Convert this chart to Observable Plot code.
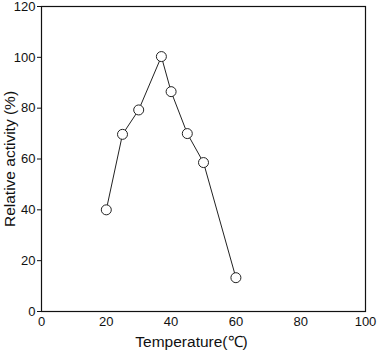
<!DOCTYPE html>
<html><head><meta charset="utf-8">
<script src="https://cdn.jsdelivr.net/npm/d3@7"></script>
<script src="https://cdn.jsdelivr.net/npm/@observablehq/plot@0.6"></script>
<style>body{margin:0;background:#fff}</style>
</head><body><div id="chart"></div>
<script>
const temperature = [20, 25, 30, 37, 40, 45, 50, 60];
const activity = [40, 69.7, 79.3, 100.3, 86.5, 70, 58.6, 13.3];
const xTicks = [0, 20, 40, 60, 80, 100];
const yTicks = [0, 20, 40, 60, 80, 100, 120];
const data = temperature.map((t, i) => ({t, a: activity[i]}));
const chart = Plot.plot({
  width: 378, height: 353,
  marginLeft: 41, marginRight: 13, marginTop: 6, marginBottom: 42,
  style: {fontFamily: "'Liberation Sans', Arial, sans-serif", fontSize: "13px", color: "#111", background: "#fff"},
  x: {domain: [0, 100], ticks: xTicks, tickSize: 0, tickPadding: 5, label: "Temperature(℃)", labelAnchor: "center", labelArrow: "none", labelOffset: 35},
  y: {domain: [0, 120], ticks: yTicks, tickSize: 4, tickPadding: 2, label: "Relative activity (%)", labelAnchor: "center", labelArrow: "none", labelOffset: 38},
  marks: [
    Plot.frame({stroke: "#111", strokeWidth: 1.2}),
    Plot.line(data, {x: "t", y: "a", stroke: "#222", strokeWidth: 1}),
    Plot.dot(data, {x: "t", y: "a", r: 5, fill: "#fff", stroke: "#222", strokeWidth: 1})
  ]
});
chart.querySelectorAll("[aria-label='x-axis label'] text, [aria-label='y-axis label'] text").forEach(t => t.style.fontSize = "15.5px");
chart.querySelectorAll("[aria-label='x-axis label'] text").forEach(t => t.setAttribute("dx", "-12"));
document.getElementById("chart").appendChild(chart);
</script></body></html>
